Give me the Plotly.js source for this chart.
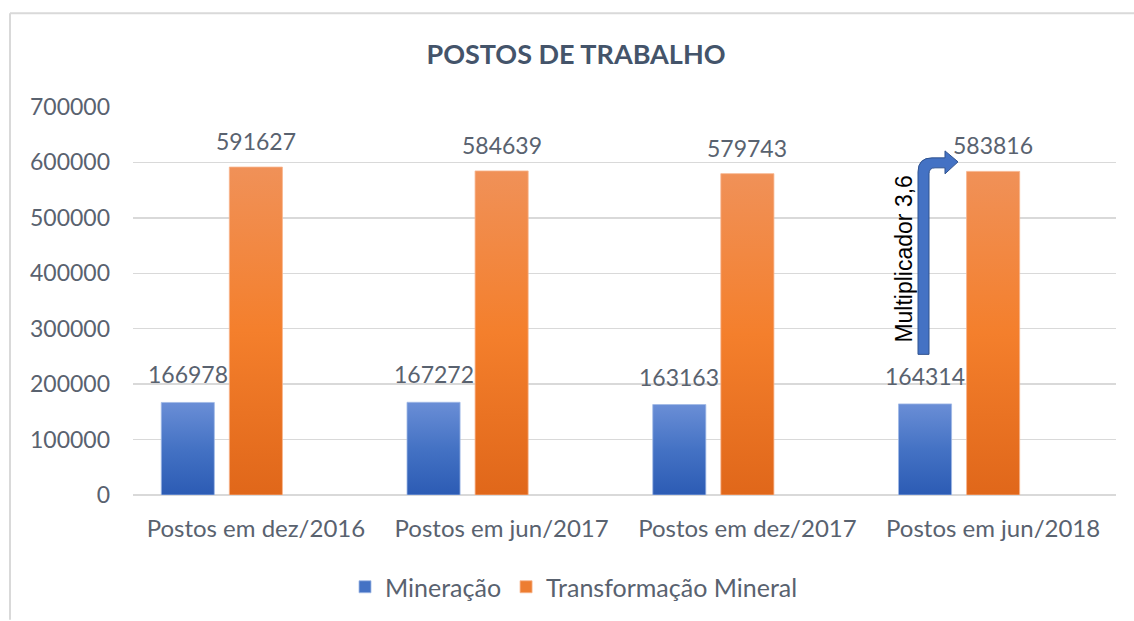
<!DOCTYPE html>
<html>
<head>
<meta charset="utf-8">
<script src="https://cdn.plot.ly/plotly-3.0.1.min.js"></script>
<style>
  html, body { margin: 0; padding: 0; background: #ffffff; }
  #chart { width: 1134px; height: 621px; }
</style>
</head>
<body>
<div id="chart"></div>
<script>
// ---- data ----
const categories = ["Postos em dez/2016", "Postos em jun/2017", "Postos em dez/2017", "Postos em jun/2018"];
const mineracao = [166978, 167272, 163163, 164314];
const transformacao = [591627, 584639, 579743, 583816];
const seriesNames = ["Mineração", "Transformação Mineral"];
const yTicks = [0, 100000, 200000, 300000, 400000, 500000, 600000, 700000];
const chartTitle = "POSTOS DE TRABALHO";
const arrowLabel = "Multiplicador 3,6";

// ---- geometry helpers (pixel -> paper) ----
const W = 1134, H = 621;
const L = 133, R = 1116, T = 107, B = 496;
const px = x => (x - L) / (R - L);
const py = y => (B - y) / (B - T);

const barW = 0.216, gap = 0.061;
const offOrange = -barW / 2;
const offBlue = offOrange - gap - barW;

const textCol = "#59626f";
const font = "Lato, 'Open Sans', sans-serif";

const traces = [
  {
    type: "bar", name: seriesNames[0], x: categories, y: mineracao,
    width: barW, offset: offBlue,
    marker: { color: "#4472C4", line: { color: "rgba(160,185,230,0.8)", width: 1 } },
    hoverinfo: "skip"
  },
  {
    type: "bar", name: seriesNames[1], x: categories, y: transformacao,
    width: barW, offset: offOrange,
    marker: { color: "#ED7D31", line: { color: "rgba(248,180,140,0.8)", width: 1 } },
    hoverinfo: "skip"
  }
];

const annotations = [];
mineracao.forEach((v, i) => annotations.push({
  x: i + offBlue + barW / 2, y: v, xref: "x", yref: "y",
  text: String(v), showarrow: false, yanchor: "middle", yshift: 28,
  font: { family: font, size: 23, color: textCol }
}));
transformacao.forEach((v, i) => annotations.push({
  x: i + offOrange + barW / 2, y: v, xref: "x", yref: "y",
  text: String(v), showarrow: false, yanchor: "middle", yshift: 26,
  font: { family: font, size: 23, color: textCol }
}));
annotations.push({
  x: px(904), y: py(260), xref: "paper", yref: "paper",
  text: arrowLabel, showarrow: false, textangle: -90,
  xanchor: "center", yanchor: "middle",
  font: { family: "'Liberation Sans', Arial, sans-serif", size: 23, color: "#000000" }
});

const P = (x, y) => px(x).toFixed(5) + "," + py(y).toFixed(5);
const arrowPath = "M" + P(918, 355) + " L" + P(918, 172) + " Q" + P(918, 158) + " " + P(932, 158) +
  " L" + P(945, 158) + " L" + P(945, 151) + " L" + P(958, 162) + " L" + P(945, 174) +
  " L" + P(945, 168) + " L" + P(935, 168) + " Q" + P(929, 168) + " " + P(929, 174) +
  " L" + P(929, 355) + " Z";

const shapes = [
  // outer frame (top and left edges)
  { type: "line", xref: "paper", yref: "paper", x0: px(10), x1: px(1134), y0: py(13), y1: py(13),
    line: { color: "#d9d9d9", width: 2 } },
  { type: "line", xref: "paper", yref: "paper", x0: px(10), x1: px(10), y0: py(13), y1: py(621),
    line: { color: "#d9d9d9", width: 2 } },
  { type: "path", xref: "paper", yref: "paper", path: arrowPath,
    fillcolor: "#4472C4", line: { color: "#2F528F", width: 1 } }
];

const layout = {
  width: W, height: H,
  margin: { l: L, r: W - R, t: T, b: H - B, pad: 0 },
  paper_bgcolor: "#ffffff", plot_bgcolor: "#ffffff",
  title: {
    text: "<b>" + chartTitle + "</b>",
    x: 576 / W, xref: "container", xanchor: "center",
    y: 1 - 55 / H, yref: "container", yanchor: "middle",
    font: { family: font, size: 27, color: "#44546A" }
  },
  showlegend: true,
  legend: {
    orientation: "h", xref: "paper", yref: "paper",
    x: px(574), xanchor: "center", y: py(587), yanchor: "middle",
    font: { family: font, size: 25, color: textCol },
    itemclick: false, traceorder: "normal"
  },
  xaxis: {
    type: "category", range: [-0.5, 3.5],
    showgrid: false, zeroline: false, showline: false, ticks: "",
    tickfont: { family: font, size: 24, color: textCol },
    ticklabelstandoff: 17, fixedrange: true
  },
  yaxis: {
    range: [0, 700000], tickvals: yTicks, tickformat: "d",
    showgrid: true, gridcolor: "#d9d9d9", gridwidth: 1.5,
    zeroline: true, zerolinecolor: "#d9d9d9", zerolinewidth: 1.5,
    showline: false, ticks: "",
    tickfont: { family: font, size: 23, color: textCol },
    ticklabelstandoff: 22, fixedrange: true
  },
  barmode: "overlay",
  annotations: annotations,
  shapes: shapes
};

Plotly.newPlot("chart", traces, layout, { displayModeBar: false, staticPlot: true }).then(gd => {
  const svg = gd.querySelector("svg.main-svg");
  const NS = "http://www.w3.org/2000/svg";
  let defs = svg.querySelector("defs");
  if (!defs) { defs = document.createElementNS(NS, "defs"); svg.insertBefore(defs, svg.firstChild); }
  const grads = [
    ["gBlue", [["0%", "#6a8ed6"], ["50%", "#4472C4"], ["100%", "#2c5bb4"]]],
    ["gOrange", [["0%", "#f09158"], ["50%", "#f47f2c"], ["100%", "#e0671a"]]]
  ];
  grads.forEach(([id, stops]) => {
    const lg = document.createElementNS(NS, "linearGradient");
    lg.setAttribute("id", id);
    lg.setAttribute("x1", "0"); lg.setAttribute("y1", "0");
    lg.setAttribute("x2", "0"); lg.setAttribute("y2", "1");
    stops.forEach(([o, c]) => {
      const s = document.createElementNS(NS, "stop");
      s.setAttribute("offset", o); s.setAttribute("stop-color", c);
      lg.appendChild(s);
    });
    defs.appendChild(lg);
  });
  const traceGroups = gd.querySelectorAll(".barlayer .trace");
  traceGroups.forEach((g, i) => {
    g.querySelectorAll("path").forEach(p => { p.style.fill = "url(#" + grads[i][0] + ")"; });
  });
});
</script>
</body>
</html>
